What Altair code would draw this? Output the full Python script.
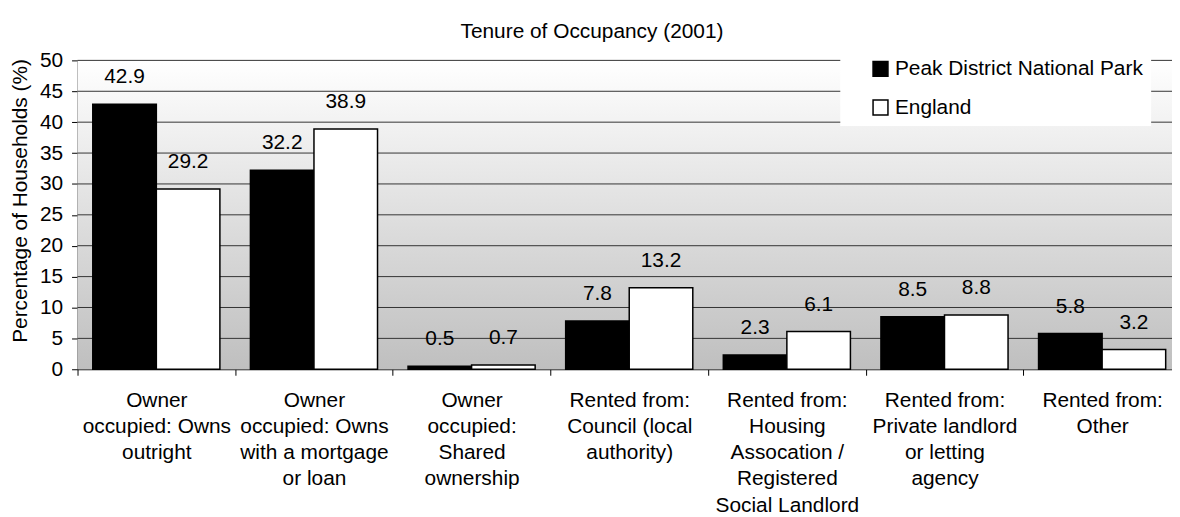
import altair as alt
import pandas as pd

FONT = "Liberation Sans"

title_text = "Tenure of Occupancy (2001)"
y_title = "Percentage of Households (%)"

categories = [
    "Owner\noccupied: Owns\noutright",
    "Owner\noccupied: Owns\nwith a mortgage\nor loan",
    "Owner\noccupied:\nShared\nownership",
    "Rented from:\nCouncil (local\nauthority)",
    "Rented from:\nHousing\nAssocation /\nRegistered\nSocial Landlord",
    "Rented from:\nPrivate landlord\nor letting\nagency",
    "Rented from:\nOther",
]
series = ["Peak District National Park", "England"]
peak = [42.9, 32.2, 0.5, 7.8, 2.3, 8.5, 5.8]
england = [29.2, 38.9, 0.7, 13.2, 6.1, 8.8, 3.2]
y_ticks = [0, 5, 10, 15, 20, 25, 30, 35, 40, 45, 50]
grid_values = [5, 10, 15, 20, 25, 30, 35, 40, 45, 50]

rows = []
for c, p, e in zip(categories, peak, england):
    rows.append({"category": c, "series": series[0], "value": p})
    rows.append({"category": c, "series": series[1], "value": e})
df = pd.DataFrame(rows)
grid_df = pd.DataFrame({"value": grid_values})
bg_df = pd.DataFrame({"dummy": [0]})

W, H = 1102, 311

x_enc = alt.X(
    "category:N",
    sort=categories,
    scale=alt.Scale(range=[0, 1111], paddingInner=0, paddingOuter=0),
    axis=alt.Axis(
        title=None,
        labelExpr="split(datum.label, '\\n')",
        labelAngle=0,
        labelAlign="center",
        labelBaseline="top",
        labelFontSize=21,
        labelFont=FONT,
        labelColor="black",
        labelLineHeight=26.5,
        labelPadding=14,
        labelLimit=400,
        labelOverlap=False,
        tickBand="extent",
        tickSize=6,
        tickColor="black",
        domainColor="black",
        grid=False,
    ),
)
xo_enc = alt.XOffset(
    "series:N",
    sort=series,
    scale=alt.Scale(domain=series, paddingInner=0, paddingOuter=0.24),
)
y_enc = alt.Y(
    "value:Q",
    scale=alt.Scale(domain=[0, 50], nice=False),
    axis=alt.Axis(
        values=y_ticks,
        title=y_title,
        titleFont=FONT,
        titleFontSize=21,
        titleFontWeight="normal",
        titleColor="black",
        titleAngle=270,
        titleAlign="center",
        titleBaseline="middle",
        titleX=-57,
        titleY=141,
        labelFontSize=21,
        labelFont=FONT,
        labelColor="black",
        labelPadding=9,
        tickSize=6,
        tickColor="black",
        domainColor="black",
        grid=False,
    ),
)

gradient = alt.Gradient(
    gradient="linear",
    stops=[
        alt.GradientStop(color="#ffffff", offset=0),
        alt.GradientStop(color="#bfbfbf", offset=1),
    ],
    x1=0, x2=0, y1=0, y2=1,
)

bg = alt.Chart(bg_df).mark_rect(color=gradient).encode(
    x=alt.value(0), x2=alt.value(W), y=alt.value(0), y2=alt.value(H)
)

rules = alt.Chart(grid_df).mark_rule(color="#333333", strokeWidth=1).encode(
    y=y_enc, x=alt.value(0), x2=alt.value(W)
)

color_enc = alt.Color(
    "series:N",
    sort=series,
    scale=alt.Scale(domain=series, range=["#000000", "#ffffff"]),
    legend=alt.Legend(
        title=None,
        orient="none",
        legendX=768,
        legendY=-10,
        fillColor="white",
        padding=8,
        symbolType="square",
        symbolSize=225,
        symbolStrokeColor="black",
        symbolStrokeWidth=1.5,
        symbolOffset=22,
        labelOffset=4,
        rowPadding=17,
        labelFontSize=21,
        labelFont=FONT,
        labelColor="black",
        labelLimit=400,
    ),
)

bars = alt.Chart(df).mark_bar(stroke="black", strokeWidth=1.5).encode(
    x=x_enc, xOffset=xo_enc, y=y_enc, color=color_enc
)

labels = alt.Chart(df).mark_text(
    fontSize=21, font=FONT, baseline="alphabetic", dy=-21, color="black"
).encode(
    x=x_enc, xOffset=xo_enc, y=y_enc, text=alt.Text("value:Q", format=".1f")
)

chart = (
    alt.layer(bg, rules, bars, labels)
    .properties(
        width=W,
        height=H,
        title=alt.TitleParams(
            title_text,
            font=FONT,
            fontSize=21,
            fontWeight="normal",
            color="black",
            anchor="middle",
            frame="group",
            dx=-33,
            offset=8,
        ),
        autosize=alt.AutoSizeParams(type="none"),
        padding={"left": 70, "top": 51, "right": 0, "bottom": 147},
    )
    .configure(font=FONT, background="white")
    .configure_view(stroke=None)
)

chart.save("out.html", embed_options={"renderer": "svg", "actions": False})
